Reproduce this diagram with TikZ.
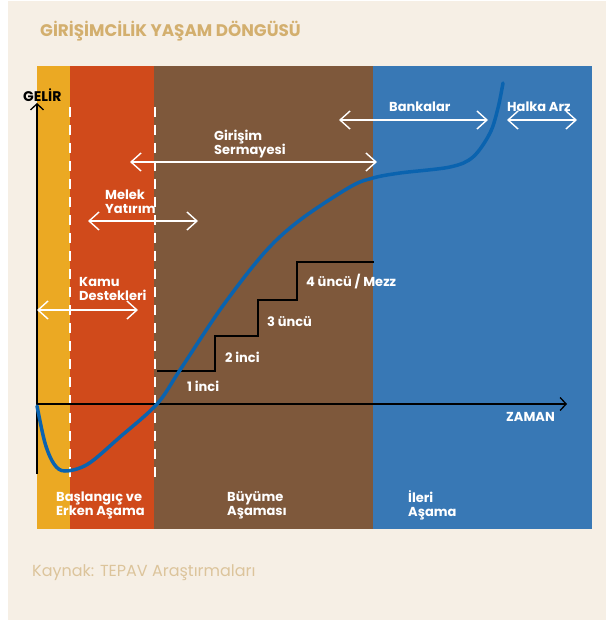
\documentclass[tikz,border=0pt]{standalone}
\usepackage{fontspec}
\setmainfont{Poppins}
\usepackage{tikz}
\usetikzlibrary{arrows.meta}
\definecolor{krem}{HTML}{F6EFE5}
\definecolor{sari}{HTML}{EBA923}
\definecolor{kirmizi}{HTML}{D04A1B}
\definecolor{kahve}{HTML}{7E583B}
\definecolor{mavi}{HTML}{3878B5}
\definecolor{egri}{HTML}{0A63AF}
\definecolor{baslik}{HTML}{D3AF6E}
\definecolor{kaynak}{HTML}{DCC49B}
\tikzset{
  etiket/.style={white,font=\bfseries\fontsize{13}{14}\selectfont,inner sep=0pt,anchor=west,align=left},
  fonok/.style={white,line width=1.4pt,{Straight Barb[length=10pt,width=18pt]}-{Straight Barb[length=10pt,width=18pt]}},
  eksen/.style={black,line width=1.3pt,-{Straight Barb[length=6pt,width=13pt]}}
}
\begin{document}
\begin{tikzpicture}[x=1pt,y=-1pt]
\useasboundingbox (0,0) rectangle (606,620);
\fill[white] (0,0) rectangle (606,620);
\fill[krem] (8,1) rectangle (606,620);
\fill[sari] (37,66) rectangle (70,529);
\fill[kirmizi] (70,66) rectangle (154,529);
\fill[kahve] (154,66) rectangle (373,529);
\fill[mavi] (373,66) rectangle (592,529);
\node (baslik) at (40,31)[anchor=west,inner sep=0pt,text=baslik,font=\bfseries\fontsize{16.8}{18}\selectfont]{GİRİŞİMCİLİK YAŞAM DÖNGÜSÜ};
\node (kaynak) at (32,573)[anchor=west,inner sep=0pt,text=kaynak,font=\fontsize{16}{18}\selectfont]{Kaynak: TEPAV Araştırmaları};
\foreach \x in {70,155}
{ \draw[white,line width=1.5pt,dash pattern=on 10pt off 8pt](\x,107)--(\x,484);
}
\coordinate (yalt) at (37,474);
\coordinate (yust) at (37,103);
\coordinate (O) at (37,404);
\coordinate (xuc) at (567,404);
\draw[eksen] (yalt)--(yust);
\draw[eksen] (O)--(xuc);
\node (gelir) at (23,95)[anchor=west,inner sep=0pt,font=\bfseries\fontsize{14}{14}\selectfont]{GELİR};
\node (zaman) at (506,417)[etiket,font=\bfseries\fontsize{13}{14}\selectfont]{ZAMAN};
\draw[black,line width=1.2pt](157,371)-|(215,336)-|(258,300)-|(297,262)--(374,262);
\draw[egri,line width=3.5pt,line cap=round] plot[smooth,tension=0.55] coordinates
 {(37,406) (45,443) (54,464) (65,471) (88,464) (120,437) (157,404) (180,370) (222,307) (265,252) (300,220) (350,187) (373,178) (400,173) (450,167) (473,157) (490,133) (498,108) (503,83)};
\coordinate (bankL) at (339,120); \coordinate (bankR) at (488,120);
\coordinate (halkaL) at (507,120); \coordinate (halkaR) at (577,120);
\coordinate (girL) at (130,162); \coordinate (girR) at (377,162);
\coordinate (melekL) at (88,221); \coordinate (melekR) at (198,221);
\coordinate (kamuL) at (37,310); \coordinate (kamuR) at (138,310);
\draw[fonok] (bankL)--(bankR);
\draw[fonok] (halkaL)--(halkaR);
\draw[fonok] (girL)--(girR);
\draw[fonok] (melekL)--(melekR);
\draw[fonok] (kamuL)--(kamuR);
\node (bank) at (389,107)[etiket]{Bankalar};
\node (halka) at (507,107)[etiket]{Halka Arz};
\node (girisim) at (214,144)[etiket]{Girişim\\Sermayesi};
\node (melek) at (105,202)[etiket]{Melek\\Yatırım};
\node (kamu) at (79,289)[etiket]{Kamu\\Destekleri};
\foreach \ad/\x/\y/\t in {bir/187/386/{1 inci},iki/225/357/{2 inci},uc/267/322/{3 üncü},dort/306/282/{4 üncü / Mezz}}
{ \node (\ad) at (\x,\y)[etiket]{\t};
}
\node (baslangic) at (56,505)[etiket]{Başlangıç ve\\Erken Aşama};
\node (buyume) at (227,505)[etiket]{Büyüme\\Aşaması};
\node (ileri) at (408,505)[etiket]{İleri\\Aşama};
\end{tikzpicture}
\end{document}
